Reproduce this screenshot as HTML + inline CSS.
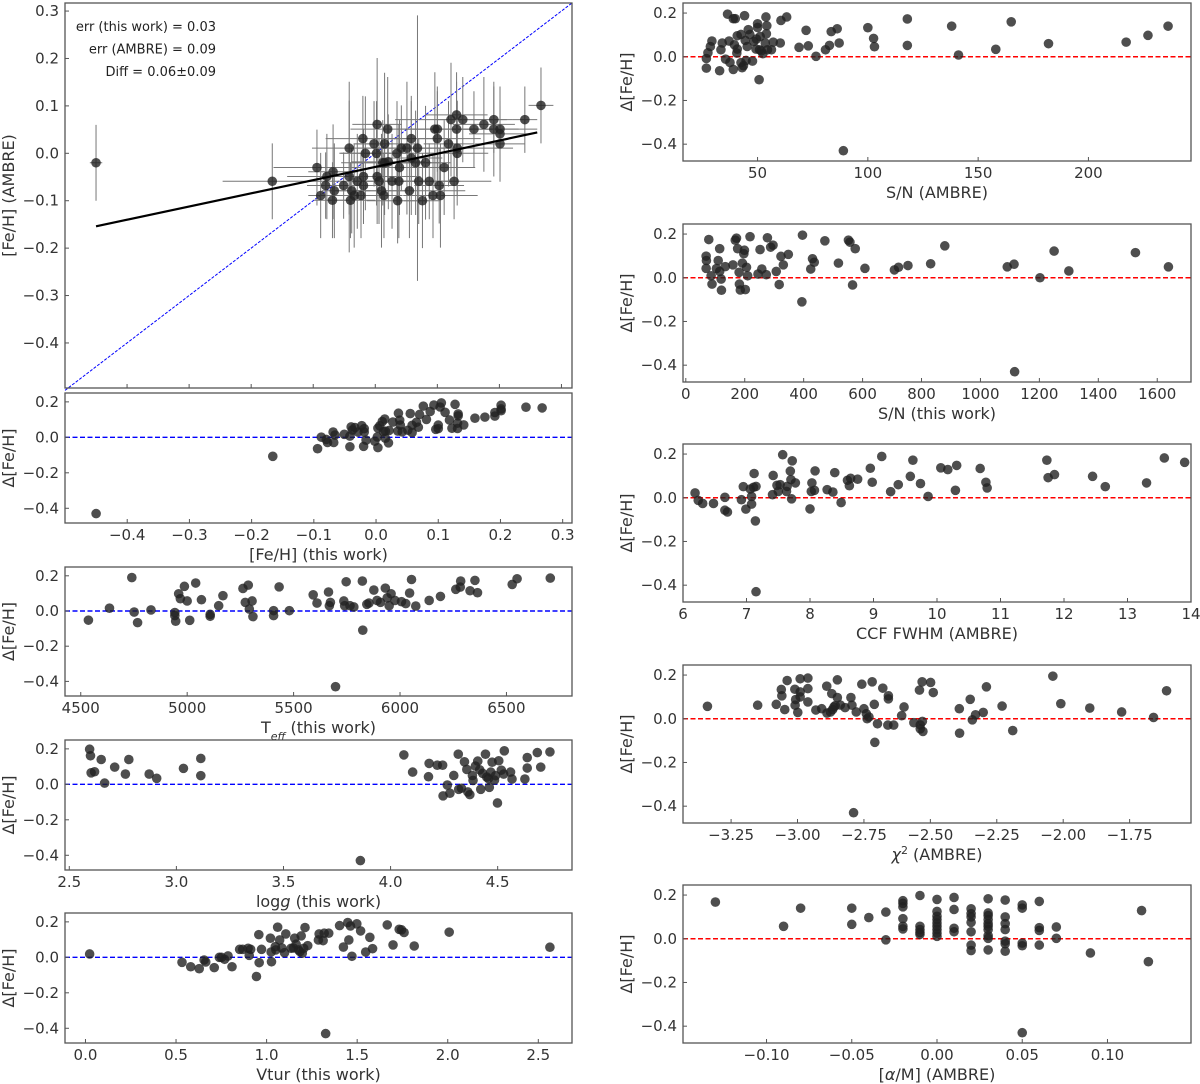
<!DOCTYPE html>
<html><head><meta charset="utf-8"><title>Fe/H comparison</title>
<style>
html,body{margin:0;padding:0;background:#fff;}
svg{display:block;font-family:"DejaVu Sans","Liberation Sans",sans-serif;}
.tl{font-size:15px;fill:#333;}
.al{font-size:16px;fill:#333;}
.an{font-size:13px;fill:#222;}
</style></head>
<body>
<svg id="fig" width="1200" height="1084" viewBox="0 0 1200 1084" xmlns="http://www.w3.org/2000/svg"></svg>
<script>
// ---------- main panel data ----------
const mainThis=[-0.094,-0.078,-0.068,-0.080,-0.088,-0.069,-0.066,-0.051,-0.042,-0.042,-0.038,-0.040,-0.034,-0.029,-0.023,-0.019,-0.020,-0.016,-0.019,-0.002,0.003,0.002,0.003,0.006,0.010,0.014,0.015,0.020,0.015,0.027,0.036,0.038,0.035,0.039,0.042,0.051,0.055,0.058,0.058,0.065,0.068,0.070,0.076,0.081,0.087,0.093,0.096,0.100,0.100,0.103,0.105,0.111,0.118,0.122,0.127,0.131,0.131,0.132,0.132,0.141,0.159,0.175,0.191,0.191,0.201,0.201,0.201,0.241,0.267,-0.450,-0.166,0.021,0.012];
const mainAmbre=[-0.030,-0.049,-0.039,-0.068,-0.089,-0.099,-0.079,-0.068,0.011,-0.049,-0.079,-0.099,-0.089,-0.059,-0.089,-0.068,0.031,0.000,-0.049,0.020,0.061,0.000,-0.049,-0.059,-0.079,-0.089,0.020,0.051,-0.020,-0.059,-0.100,-0.059,0.000,-0.030,0.011,0.011,-0.079,0.031,-0.010,-0.020,0.011,-0.059,-0.100,-0.020,-0.059,-0.089,0.051,0.031,0.051,-0.068,-0.089,-0.030,0.020,0.071,-0.059,0.081,0.051,0.000,0.011,0.071,0.051,0.061,0.071,0.051,0.051,0.020,0.041,0.071,0.101,-0.020,-0.059,-0.018,-0.020];
const mainXErr=[0.07,0.05,0.04,0.03,0.02,0.03,0.02,0.03,0.06,0.10,0.03,0.04,0.05,0.06,0.04,0.03,0.06,0.04,0.05,0.03,0.04,0.06,0.07,0.05,0.04,0.03,0.05,0.06,0.07,0.06,0.05,0.04,0.06,0.05,0.07,0.04,0.09,0.06,0.05,0.04,0.06,0.05,0.03,0.04,0.05,0.04,0.06,0.07,0.05,0.04,0.06,0.05,0.04,0.09,0.06,0.05,0.07,0.05,0.09,0.04,0.03,0.05,0.03,0.07,0.03,0.04,0.05,0.02,0.02,0.01,0.08,0.06,0.05];
const mainYErr=[0.08,0.09,0.10,0.07,0.09,0.08,0.10,0.07,0.14,0.16,0.09,0.08,0.11,0.10,0.09,0.08,0.09,0.12,0.10,0.09,0.14,0.11,0.10,0.09,0.12,0.09,0.15,0.11,0.08,0.10,0.09,0.12,0.11,0.10,0.09,0.14,0.10,0.09,0.12,0.11,0.28,0.09,0.10,0.12,0.08,0.09,0.12,0.10,0.09,0.08,0.11,0.10,0.09,0.12,0.08,0.09,0.10,0.11,0.10,0.09,0.08,0.10,0.07,0.10,0.09,0.08,0.07,0.07,0.08,0.08,0.08,0.10,0.09];
const fitX=[-0.45,0.261];
const fitY=[-0.154,0.044];
const mainYTicks=[0.3,0.2,0.1,0.0,-0.1,-0.2,-0.3,-0.4];
const fehTicks=[-0.4,-0.3,-0.2,-0.1,0.0,0.1,0.2,0.3];
const dTicks=[0.2,0.0,-0.2,-0.4];
// ---------- Teff ----------
const teffX=[4536,4635,4740,4751,4767,4830,4942,4942,4946,4960,4968,4987,5000,5012,5040,5067,5108,5108,5148,5168,5262,5273,5287,5292,5305,5309,5406,5406,5432,5480,5592,5610,5664,5668,5673,5736,5740,5747,5765,5783,5823,5825,5844,5854,5877,5892,5908,5931,5940,5949,5958,5976,6007,6027,6045,6054,6074,6137,6190,6262,6283,6285,6329,6352,6364,6527,6550,6706,5697];
const teffD=[-0.052,0.016,0.19,-0.006,-0.066,0.006,-0.009,-0.026,-0.058,0.098,0.07,0.140,0.057,-0.053,0.159,0.064,-0.019,-0.030,0.030,0.087,0.128,0.049,0.147,0.011,0.057,-0.032,0.002,-0.026,0.137,0.002,0.092,0.045,0.108,0.030,0.049,0.057,0.030,0.166,0.030,0.023,0.170,-0.109,0.038,0.045,0.119,0.060,0.049,0.130,0.075,0.030,0.098,0.060,0.053,0.042,0.102,0.179,0.028,0.060,0.083,0.123,0.136,0.170,0.115,0.174,0.104,0.151,0.183,0.187,-0.43];
const teffTicks=[4500,5000,5500,6000,6500];
// ---------- logg ----------
const loggX=[2.595,2.599,2.602,2.618,2.649,2.665,2.712,2.762,2.778,2.873,2.908,3.033,3.114,3.114,3.859,4.062,4.103,4.177,4.180,4.218,4.243,4.245,4.265,4.277,4.295,4.316,4.318,4.331,4.345,4.356,4.361,4.370,4.382,4.385,4.396,4.407,4.416,4.421,4.430,4.443,4.449,4.457,4.461,4.468,4.474,4.485,4.490,4.499,4.505,4.517,4.531,4.528,4.560,4.567,4.627,4.638,4.638,4.685,4.701,4.744];
const loggD=[0.198,0.161,0.065,0.071,0.14,0.007,0.097,0.058,0.14,0.058,0.034,0.09,0.146,0.049,-0.43,0.166,0.069,0.043,0.118,0.108,0.108,-0.065,-0.004,-0.05,0.05,0.17,-0.028,-0.022,0.127,0.084,-0.043,-0.058,0.05,0.022,0.103,0.131,0.082,-0.028,0.062,0.17,0.041,0.032,-0.017,0.069,0.125,0.024,0.049,-0.105,0.133,0.08,0.189,0.058,0.069,0.03,0.03,0.151,0.092,0.179,0.097,0.183];
const loggTicks=[2.5,3.0,3.5,4.0,4.5];
// ---------- Vtur ----------
const vturX=[0.023,0.533,0.581,0.628,0.655,0.664,0.711,0.739,0.751,0.768,0.787,0.809,0.851,0.868,0.898,0.904,0.912,0.944,0.957,0.959,0.972,1.021,1.025,1.027,1.048,1.051,1.061,1.072,1.084,1.099,1.106,1.135,1.148,1.155,1.163,1.176,1.184,1.191,1.197,1.205,1.212,1.227,1.286,1.290,1.312,1.318,1.326,1.343,1.403,1.424,1.448,1.454,1.463,1.471,1.498,1.519,1.547,1.570,1.585,1.666,1.698,1.732,1.745,1.759,1.815,2.008,2.564];
const vturD=[0.019,-0.028,-0.053,-0.064,-0.015,-0.026,-0.058,0.0,0.0,-0.011,0.008,-0.053,0.045,0.045,0.051,0.011,0.045,-0.108,0.128,-0.03,0.045,0.108,0.03,-0.025,0.06,0.042,0.17,0.098,0.053,0.026,0.132,0.051,0.053,0.108,0.074,0.042,0.032,0.121,0.023,0.051,0.168,0.066,0.098,0.132,0.094,0.136,-0.43,0.136,0.179,0.058,0.196,0.098,0.177,0.006,0.189,0.149,0.03,0.113,0.049,0.183,0.07,0.158,0.155,0.14,0.064,0.142,0.057];
const vturTicks=[0.0,0.5,1.0,1.5,2.0,2.5];
// ---------- S/N AMBRE ----------
const snaX=[26.8,26.8,27.5,28.6,29.3,32.8,33.4,34.0,35.5,36.4,37.1,37.5,39.0,39.0,39.5,39.9,40.6,40.8,40.8,42.5,42.5,43.0,43.6,44.1,44.4,44.8,45.3,45.8,46.5,47.7,48.3,49.3,49.5,50.0,50.0,50.7,50.9,51.2,51.7,52.4,53.5,53.8,54.0,54.2,54.5,56.3,57.1,60.3,60.6,63.2,68.8,72.0,73.0,76.5,80.8,82.6,83.4,86.1,87.0,88.9,100.0,102.6,103.0,117.9,117.9,138.0,141.1,158.0,165.0,181.9,217.1,227.0,236.1];
const snaD=[-0.008,-0.052,0.018,0.047,0.072,-0.064,0.032,0.063,-0.011,0.195,0.072,-0.026,0.174,-0.058,0.055,0.174,0.017,0.096,0.035,0.102,-0.027,-0.05,-0.041,0.188,0.075,-0.017,0.047,0.124,0.102,-0.02,0.07,0.035,0.081,0.151,0.134,-0.105,0.032,0.093,0.027,0.014,0.063,0.182,0.105,0.142,0.032,0.032,0.067,0.063,0.166,0.182,0.043,0.121,0.05,0.002,0.032,0.052,0.115,0.128,0.063,-0.43,0.133,0.084,0.046,0.173,0.052,0.14,0.008,0.034,0.16,0.06,0.067,0.098,0.14];
const snaTicks=[50,100,150,200];
// ---------- S/N this work ----------
const sntX=[69,69,70,78,86,89,104,110,115,115,120,121,134,160,168,172,176,181,182,185,192,197,199,202,206,210,218,245,252,258,273,277,288,296,307,317,323,331,348,396,394,424,430,436,472,518,552,557,566,575,608,708,722,754,831,879,1091,1114,1116,1202,1250,1300,1526,1638];
const sntD=[0.099,0.043,0.079,0.175,0.009,-0.029,0.042,0.079,0.133,0.029,-0.006,-0.057,0.051,0.059,0.172,0.181,0.133,0.025,-0.029,-0.056,0.067,0.11,0.126,-0.054,0.048,0.009,0.188,0.017,0.129,0.040,0.014,0.183,0.14,0.149,0.029,-0.031,0.098,0.059,0.107,0.195,-0.11,0.04,0.087,0.071,0.169,0.067,0.172,0.163,-0.033,0.133,0.043,0.036,0.048,0.056,0.064,0.146,0.05,0.062,-0.43,0.0,0.122,0.031,0.115,0.05];
const sntTicks=[0,200,400,600,800,1000,1200,1400,1600];
// ---------- CCF FWHM ----------
const fwX=[6.19,6.24,6.31,6.48,6.66,6.66,6.70,6.92,6.95,6.99,7.06,7.08,7.08,7.11,7.12,7.15,7.14,7.15,7.41,7.42,7.48,7.50,7.53,7.57,7.63,7.64,7.69,7.70,7.71,7.72,7.77,8.00,8.02,8.03,8.07,8.08,8.27,8.36,8.39,8.49,8.59,8.62,8.64,8.75,8.95,8.98,9.13,9.27,9.39,9.58,9.62,9.74,9.86,10.06,10.17,10.31,10.29,10.68,10.77,10.79,11.73,11.75,11.85,12.45,12.65,13.30,13.58,13.90];
const fwD=[0.022,-0.012,-0.026,-0.026,0.002,-0.057,-0.065,-0.009,0.051,-0.052,0.04,0.006,-0.029,0.048,0.111,0.052,-0.106,-0.43,0.014,0.102,0.057,0.029,0.06,0.197,0.029,0.052,0.122,0.083,-0.005,0.169,0.068,-0.051,0.029,0.068,0.034,0.123,0.037,0.026,0.115,-0.022,0.08,0.055,0.089,0.085,0.135,0.071,0.189,0.028,0.06,0.098,0.172,0.065,0.006,0.137,0.129,0.148,0.034,0.134,0.071,0.045,0.172,0.092,0.106,0.098,0.051,0.068,0.182,0.162];
const fwTicks=[6,7,8,9,10,11,12,13,14];
// ---------- chi2 ----------
const chiX=[-3.339,-3.150,-3.080,-3.061,-3.059,-3.048,-3.039,-3.010,-3.009,-3.007,-2.999,-2.990,-2.990,-2.990,-2.961,-2.961,-2.961,-2.931,-2.909,-2.890,-2.889,-2.876,-2.871,-2.868,-2.863,-2.858,-2.850,-2.850,-2.839,-2.821,-2.799,-2.795,-2.789,-2.779,-2.758,-2.750,-2.741,-2.738,-2.731,-2.719,-2.711,-2.709,-2.699,-2.679,-2.660,-2.658,-2.658,-2.638,-2.608,-2.599,-2.562,-2.541,-2.538,-2.538,-2.531,-2.530,-2.528,-2.499,-2.489,-2.391,-2.390,-2.350,-2.342,-2.330,-2.301,-2.289,-2.230,-2.190,-2.039,-2.009,-1.900,-1.780,-1.660,-1.611];
const chiD=[0.057,0.062,0.066,0.134,0.105,0.042,0.175,0.135,0.062,0.088,0.029,0.183,0.123,0.1,0.186,0.138,0.077,0.04,0.046,0.149,0.026,0.031,0.115,0.042,0.054,0.06,0.178,0.097,0.063,0.051,0.097,0.062,-0.43,0.031,0.158,0.046,0.023,0.0,0.008,0.169,0.066,-0.108,-0.023,0.14,-0.029,0.105,0.091,-0.029,0.014,0.054,-0.018,0.131,-0.028,-0.046,0.169,-0.012,-0.058,0.166,0.12,0.046,-0.066,0.089,-0.005,0.018,0.029,0.146,0.058,-0.054,0.195,0.069,0.049,0.031,0.006,0.128];
const chiTicks=[-3.25,-3.0,-2.75,-2.5,-2.25,-2.0,-1.75];
// ---------- alpha/M ----------
const alX=[-0.13,-0.09,-0.08,-0.05,-0.05,-0.04,-0.03,-0.03,-0.02,-0.02,-0.02,-0.02,-0.02,-0.02,-0.01,-0.01,-0.01,-0.01,-0.01,0,0,0,0,0,0,0,0,0,0.01,0.01,0.01,0.01,0.02,0.02,0.02,0.02,0.02,0.02,0.02,0.03,0.03,0.03,0.03,0.03,0.03,0.03,0.03,0.03,0.03,0.04,0.04,0.04,0.04,0.04,0.04,0.04,0.05,0.05,0.05,0.05,0.05,0.06,0.06,0.06,0.06,0.07,0.07,0.09,0.12,0.124];
const alD=[0.168,0.057,0.14,0.14,0.066,0.097,0.122,-0.005,0.174,0.162,0.146,0.092,0.057,0.045,0.198,0.057,0.042,0.029,0.02,0.18,0.125,0.103,0.088,0.072,0.057,0.042,0.026,0.011,0.189,0.134,0.048,0.032,0.137,0.115,0.1,0.075,0.032,-0.029,-0.054,0.183,0.118,0.106,0.088,0.069,0.057,0.042,0.014,0.002,-0.051,0.177,0.1,0.069,0.042,-0.011,-0.023,-0.057,0.155,0.14,-0.02,-0.032,-0.43,0.171,0.051,0.038,-0.029,0.054,0.002,-0.065,0.129,-0.105];
const alTicks=[-0.10,-0.05,0.00,0.05,0.10];

const NS="http://www.w3.org/2000/svg";
const svg=document.getElementById('fig');
function mk(tag,attrs,parent){const e=document.createElementNS(NS,tag);for(const k in attrs)e.setAttribute(k,attrs[k]);(parent||svg).appendChild(e);return e;}
function fmt(v,d){return (v<0?'\u2212':'')+Math.abs(v).toFixed(d);}

function panel(name,box,xd,yd){
  const g=mk('g',{});
  
  
  const sx=v=>box.x+(v-xd[0])/(xd[1]-xd[0])*box.w;
  const sy=v=>box.y+box.h-(v-yd[0])/(yd[1]-yd[0])*box.h;
  return {g,sx,sy,box};
}
function frame(P){
  const r=mk('rect',{x:P.box.x,y:P.box.y,width:P.box.w,height:P.box.h,fill:'none',stroke:'#555','stroke-width':1.3},P.g);
  
  
}
function xticks(P,ticks,dec,showLabels){
  const xg=mk('g',{},P.g);
  
  
  const b=P.box.y+P.box.h;
  ticks.forEach(t=>{
    const x=P.sx(t);
    mk('line',{x1:x,x2:x,y1:b,y2:b-4,stroke:'#555','stroke-width':1},xg);
    if(showLabels){
      const tx=mk('text',{x:x,y:b+17,'text-anchor':'middle',class:'tl'},xg);
      tx.textContent=fmt(t,dec);
      
      
    }
  });
}
function yticks(P,ticks,dec){
  const yg=mk('g',{},P.g);
  
  
  ticks.forEach(t=>{
    const y=P.sy(t);
    mk('line',{x1:P.box.x,x2:P.box.x+4,y1:y,y2:y,stroke:'#555','stroke-width':1},yg);
    const tx=mk('text',{x:P.box.x-6,y:y+5,'text-anchor':'end',class:'tl'},yg);
    tx.textContent=fmt(t,dec);
    
    
  });
}
function xlabel(P,html){
  const t=mk('text',{x:P.box.x+P.box.w/2,y:P.box.y+P.box.h+37,'text-anchor':'middle',class:'al'},P.g);
  t.innerHTML=html;
  
  
}
function ylabel(P,x,txt){
  const cy=P.box.y+P.box.h/2;
  const t=mk('text',{x:x,y:cy,'text-anchor':'middle',class:'al',transform:'rotate(-90 '+x+' '+cy+')'},P.g);
  t.textContent=txt;
  
  
}
function zero(P,color){
  const l=mk('line',{x1:P.box.x,x2:P.box.x+P.box.w,y1:P.sy(0),y2:P.sy(0),stroke:color,'stroke-width':1.4,'stroke-dasharray':'5,2.5'},P.g);
  
  
}
function points(P,xs,ys){
  xs.forEach((v,i)=>{
    const c=mk('circle',{cx:P.sx(v),cy:P.sy(ys[i]),r:4.8,fill:'#222','fill-opacity':0.8},P.g);
    
    
  });
}

const LX=65,LW=507,RX=683,RW=508;
const dL=[-0.483,0.25], dR=[-0.477,0.246];

// Main
const M=panel('feh-comparison-panel',{x:LX,y:3,w:LW,h:385},[-0.5,0.317],[-0.495,0.317]);
(function(){
  const d=mk('line',{x1:M.sx(-0.5),y1:M.sy(-0.5),x2:M.sx(0.317),y2:M.sy(0.317),stroke:'#00f','stroke-width':1,'stroke-dasharray':'3,1.5'},M.g);
  
  
  mainThis.forEach((v,i)=>{
    const x=M.sx(v),y=M.sy(mainAmbre[i]);
    const e=mk('path',{d:'M'+M.sx(v-mainXErr[i])+' '+y+'H'+M.sx(v+mainXErr[i])+'M'+x+' '+M.sy(mainAmbre[i]-mainYErr[i])+'V'+M.sy(mainAmbre[i]+mainYErr[i]),stroke:'#777','stroke-width':1,fill:'none'},M.g);
    
    
  });
  points(M,mainThis,mainAmbre);
  const f=mk('line',{x1:M.sx(fitX[0]),y1:M.sy(fitY[0]),x2:M.sx(fitX[1]),y2:M.sy(fitY[1]),stroke:'#000','stroke-width':2.2},M.g);
  
  
  frame(M);
  xticks(M,fehTicks,1,false);
  yticks(M,mainYTicks,1);
  ylabel(M,14,'[Fe/H] (AMBRE)');
  const notes=['err (this work) = 0.03','err (AMBRE) = 0.09','Diff = 0.06\u00b10.09'];
  notes.forEach((s,i)=>{
    const t=mk('text',{x:216,y:31+i*22.5,'text-anchor':'end',class:'an'},M.g);
    t.textContent=s;
    
    
  });
})();

function dpanel(name,box,xd,yd,xs,ys,ticks,dec,label,color,ylx){
  const P=panel(name,box,xd,yd);
  zero(P,color);
  points(P,xs,ys);
  frame(P);
  xticks(P,ticks,dec,true);
  yticks(P,dTicks,1);
  xlabel(P,label);
  ylabel(P,ylx,'\u0394[Fe/H]');
  return P;
}
const P2=dpanel('delta-vs-feh-panel',{x:LX,y:393,w:LW,h:130},[-0.5,0.315],dL,mainThis,mainThis.map((v,i)=>+(v-mainAmbre[i]).toFixed(3)),fehTicks,1,'[Fe/H] (this work)','#00f',14);
dpanel('delta-vs-teff-panel',{x:LX,y:567,w:LW,h:129},[4426,6808],dL,teffX,teffD,teffTicks,0,'T<tspan baseline-shift="sub" font-size="11" font-style="italic">eff</tspan> (this work)','#00f',14);
dpanel('delta-vs-logg-panel',{x:LX,y:740,w:LW,h:130},[2.48,4.847],dL,loggX,loggD,loggTicks,1,'log<tspan font-style="italic">g</tspan> (this work)','#00f',14);
dpanel('delta-vs-vtur-panel',{x:LX,y:913,w:LW,h:130},[-0.113,2.686],dL,vturX,vturD,vturTicks,1,'Vtur (this work)','#00f',14);

dpanel('delta-vs-sn-ambre-panel',{x:RX,y:3,w:RW,h:158},[16.2,246.5],dR,snaX,snaD,snaTicks,0,'S/N (AMBRE)','#f00',632);
dpanel('delta-vs-sn-this-panel',{x:RX,y:224,w:RW,h:158},[-9.5,1714.6],dR,sntX,sntD,sntTicks,0,'S/N (this work)','#f00',632);
dpanel('delta-vs-fwhm-panel',{x:RX,y:444,w:RW,h:158},[6,14],dR,fwX,fwD,fwTicks,0,'CCF FWHM (AMBRE)','#f00',632);
dpanel('delta-vs-chi2-panel',{x:RX,y:665,w:RW,h:158},[-3.431,-1.519],dR,chiX,chiD,chiTicks,2,'<tspan font-style="italic">\u03c7</tspan><tspan baseline-shift="super" font-size="11">2</tspan> (AMBRE)','#f00',632);
dpanel('delta-vs-alpha-panel',{x:RX,y:885,w:RW,h:158},[-0.149,0.149],dR,alX,alD,alTicks,2,'[<tspan font-style="italic">\u03b1</tspan>/M] (AMBRE)','#f00',632);
</script>
</body></html>
